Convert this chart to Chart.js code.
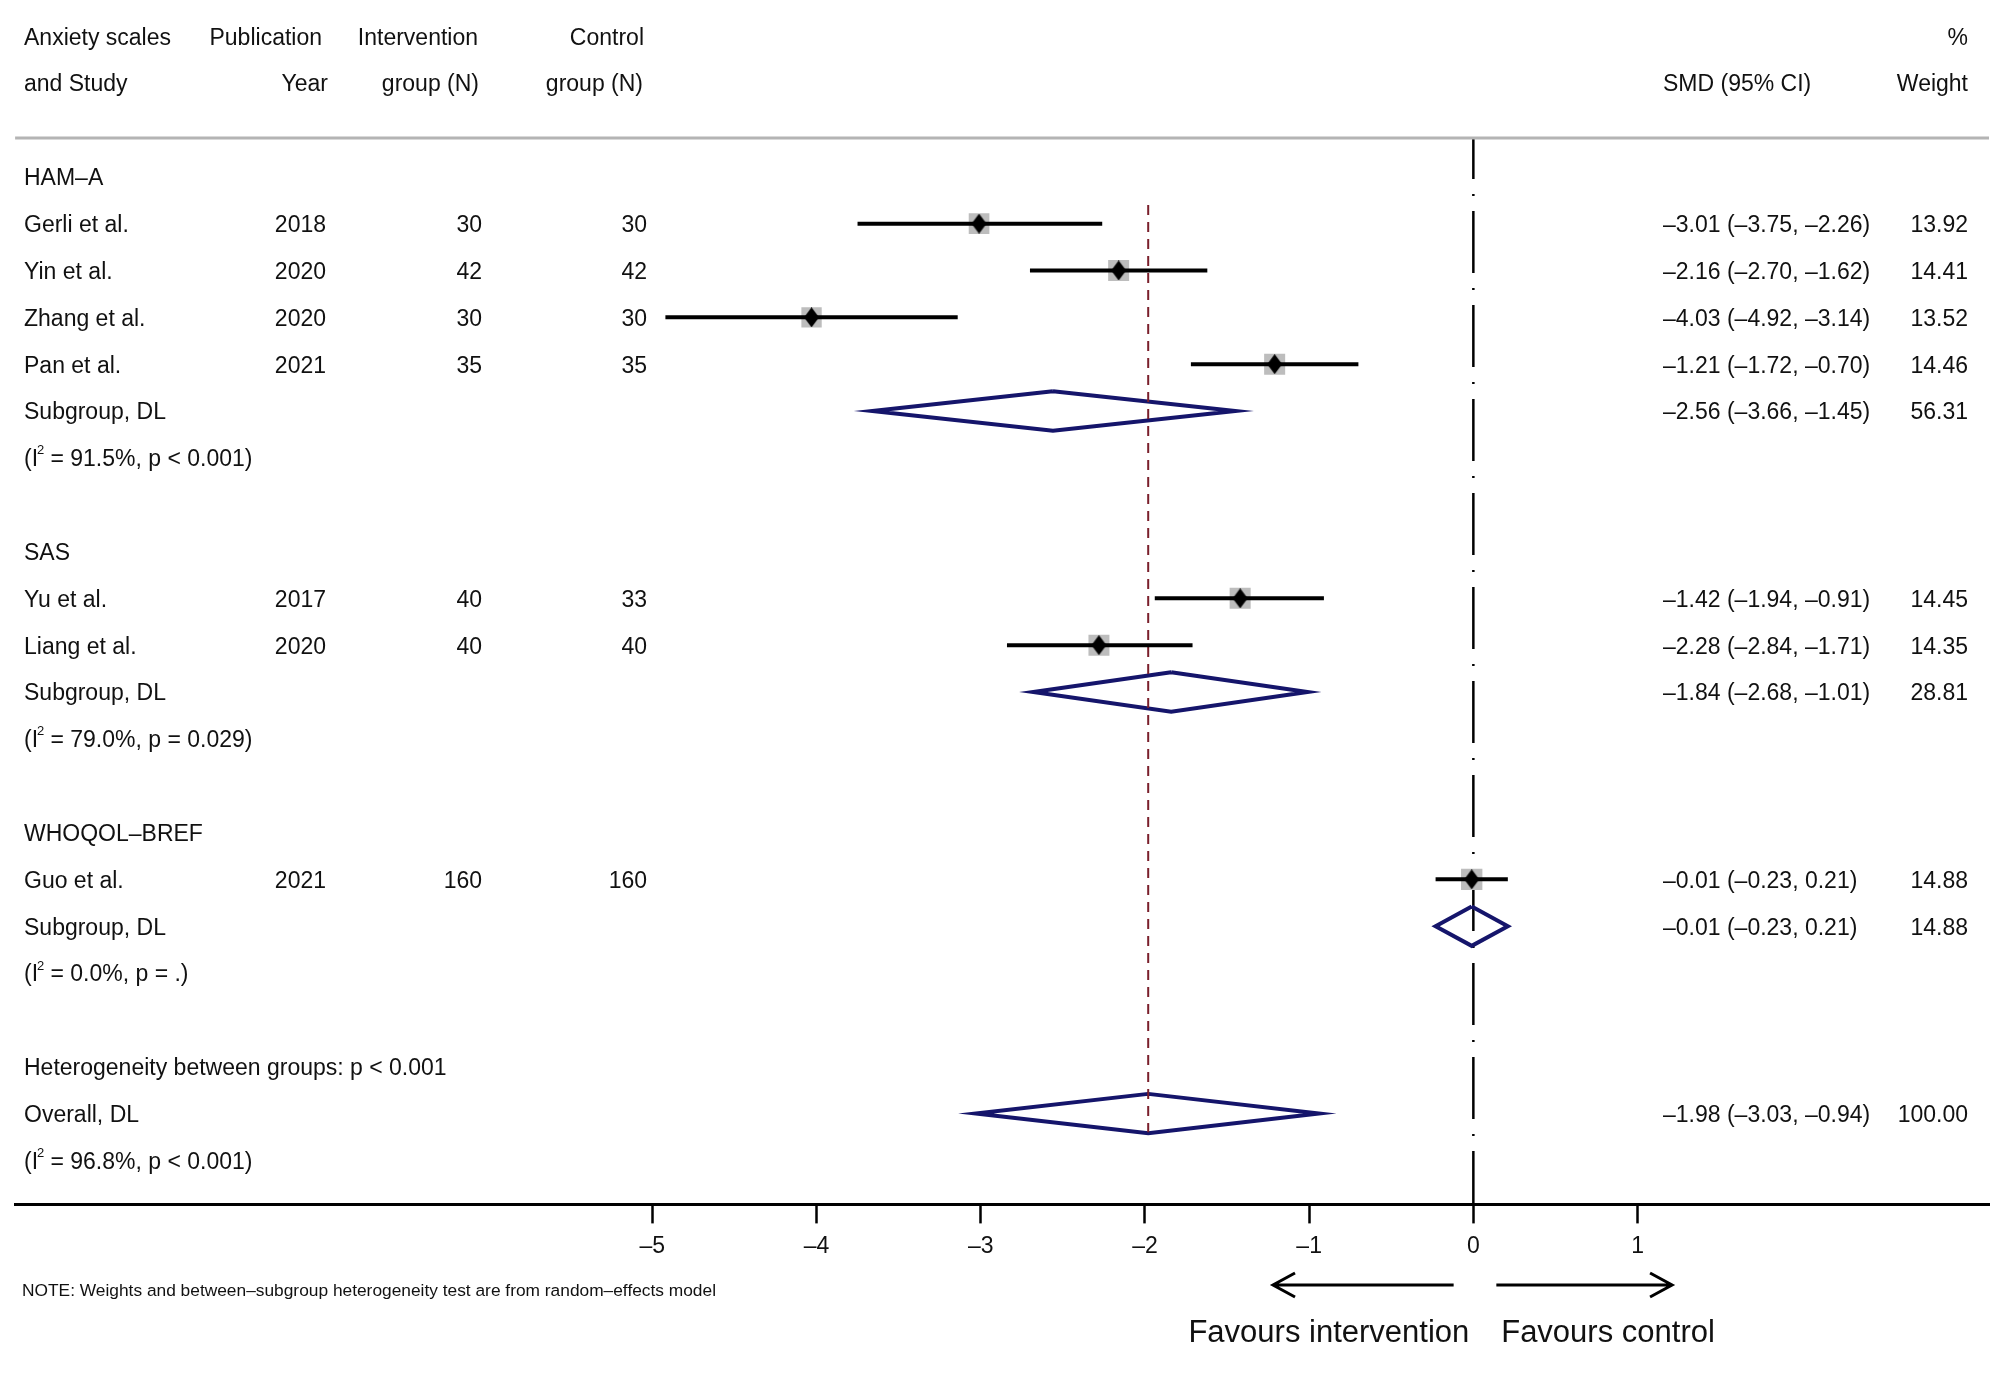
<!DOCTYPE html>
<html>
<head>
<meta charset="utf-8">
<title>Forest plot - anxiety scales</title>
<script src="https://cdn.jsdelivr.net/npm/chart.js@4.4.1/dist/chart.umd.min.js"></script>
<style>
    html, body { margin: 0; padding: 0; background: #fff; }
    #forest { display: block; }
</style>
</head>
<body>
<canvas id="forest" width="2008" height="1373"></canvas>
<script>
// ================================================================
// Forest plot — SMD by anxiety scale (random effects, DL)
// ================================================================

// ── Studies ─────────────────────────────────────────────────────
var studyNames    = ['Gerli et al.', 'Yin et al.', 'Zhang et al.', 'Pan et al.', 'Yu et al.', 'Liang et al.', 'Guo et al.'];
var studyYears    = ['2018', '2020', '2020', '2021', '2017', '2020', '2021'];
var interventionN = [30, 42, 30, 35, 40, 40, 160];
var controlN      = [30, 42, 30, 35, 33, 40, 160];
var studySMD      = [-3.01, -2.16, -4.03, -1.21, -1.42, -2.28, -0.01];
var studyLow      = [-3.75, -2.70, -4.92, -1.72, -1.94, -2.84, -0.23];
var studyHigh     = [-2.26, -1.62, -3.14, -0.70, -0.91, -1.71, 0.21];
var studyWeight   = [13.92, 14.41, 13.52, 14.46, 14.45, 14.35, 14.88];
var studyRows     = [1, 2, 3, 4, 9, 10, 15];

// ── Pooled estimates (3 subgroups + overall) ────────────────────
var poolLabels = ['Subgroup, DL', 'Subgroup, DL', 'Subgroup, DL', 'Overall, DL'];
var poolSMD    = [-2.56, -1.84, -0.01, -1.98];
var poolLow    = [-3.66, -2.68, -0.23, -3.03];
var poolHigh   = [-1.45, -1.01, 0.21, -0.94];
var poolWeight = [56.31, 28.81, 14.88, 100.00];
var poolRows   = [5, 11, 16, 20];

// ── Heterogeneity ───────────────────────────────────────────────
var hetI2   = ['91.5%', '79.0%', '0.0%', '96.8%'];
var hetP    = ['p < 0.001', 'p = 0.029', 'p = .', 'p < 0.001'];
var hetRows = [6, 12, 17, 21];
var betweenText = 'Heterogeneity between groups: p < 0.001';
var betweenRow  = 19;

// ── Groups / axis ───────────────────────────────────────────────
var groupNames = ['HAM\u2013A', 'SAS', 'WHOQOL\u2013BREF'];
var groupRows  = [0, 8, 14];
var xTicks     = [-5, -4, -3, -2, -1, 0, 1];
var xMin = -8.88, xMax = 3.14;
var yMin = -0.829, yMax = 21.94;

var FONT = '"Liberation Sans", Arial, Helvetica, sans-serif';
var DASH = '\u2013';
var TXT_DY = 2;   // el texto de Stata queda un poco más abajo que el centro de la fila
Chart.defaults.font.family = FONT;

function _fmt(n) { return (n < 0 ? DASH : '') + Math.abs(n).toFixed(2); }

// marcador diamante negro (más alto que ancho)
var diamondImg = (function() {
    var c = document.createElement('canvas');
    c.width = 15; c.height = 20;
    var g = c.getContext('2d');
    g.fillStyle = '#000';
    g.beginPath();
    g.moveTo(7.5, 0); g.lineTo(15, 10); g.lineTo(7.5, 20); g.lineTo(0, 10);
    g.closePath(); g.fill();
    return c;
})();

// ── Datasets ────────────────────────────────────────────────────
var datasets = [];

// marcadores de punto estimado
datasets.push({
    data: studySMD.map(function(v, i) { return { x: v, y: studyRows[i] }; }),
    pointStyle: diamondImg, pointRadius: 10, showLine: false, order: 0
});

// IC de cada estudio
studySMD.forEach(function(v, i) {
    datasets.push({
        data: [{ x: studyLow[i], y: studyRows[i] }, { x: studyHigh[i], y: studyRows[i] }],
        showLine: true, borderColor: '#000', borderWidth: 4, borderCapStyle: 'butt',
        pointRadius: 0, order: 1
    });
});

// cajas grises por peso
datasets.push({
    data: studySMD.map(function(v, i) { return { x: v, y: studyRows[i] }; }),
    pointStyle: 'rect', showLine: false, order: 3,
    pointRadius: studyWeight.map(function(w) { return 14.85 * Math.sqrt(w / 14.4); }),
    backgroundColor: '#bdbdbd', borderWidth: 0
});

// rombos de subgrupo y global
var DH = 0.42;
poolSMD.forEach(function(v, i) {
    var r = poolRows[i];
    datasets.push({
        data: [
            { x: v, y: r - DH }, { x: poolHigh[i], y: r }, { x: v, y: r + DH },
            { x: poolLow[i], y: r }, { x: v, y: r - DH }
        ],
        showLine: true, borderColor: '#15156b', borderWidth: 4, borderJoinStyle: 'miter',
        tension: 0, pointRadius: 0, fill: false, order: 2, clip: false
    });
});

// línea nula (raya-punto)
datasets.push({
    data: [{ x: 0, y: yMin }, { x: 0, y: yMax }],
    showLine: true, borderColor: '#000', borderWidth: 2.5, borderCapStyle: 'butt',
    borderDash: [62, 15, 2, 15], borderDashOffset: 21, pointRadius: 0, order: 4
});

// línea del efecto global
datasets.push({
    data: [{ x: poolSMD[3], y: 0.6 }, { x: poolSMD[3], y: 20.4 }],
    showLine: true, borderColor: '#7a1f2b', borderWidth: 2, borderCapStyle: 'butt',
    borderDash: [10, 7], pointRadius: 0, order: 1
});

// ── Texto de la tabla ───────────────────────────────────────────
function _txt(ctx, s, x, y, align, size, maxW) {
    ctx.font = (size || 23) + 'px ' + FONT;
    ctx.textAlign = align || 'left';
    if (maxW) ctx.fillText(s, x, y, maxW); else ctx.fillText(s, x, y);
}

function _het(ctx, x, y, i2, p) {
    ctx.font = '23px ' + FONT;
    ctx.textAlign = 'left';
    ctx.fillText('(I', x, y);
    var w = ctx.measureText('(I').width;
    ctx.font = '13px ' + FONT;
    ctx.fillText('2', x + w - 1, y - 9);
    ctx.font = '23px ' + FONT;
    ctx.fillText(' = ' + i2 + ', ' + p + ')', x + w + 6, y);
}

function _arrow(ctx, x1, x2, y) {
    var dir = x2 > x1 ? 1 : -1;
    ctx.beginPath();
    ctx.moveTo(x1, y); ctx.lineTo(x2, y);
    ctx.moveTo(x2 - dir * 22, y - 12); ctx.lineTo(x2, y); ctx.lineTo(x2 - dir * 22, y + 12);
    ctx.stroke();
}

var tablePlugin = {
    id: 'forestTable',
    afterDraw: function(chart) {
        var ctx = chart.ctx, ys = chart.scales.y, xs = chart.scales.x, ca = chart.chartArea;
        var row = function(r) { return ys.getPixelForValue(r) + TXT_DY; };
        ctx.save();
        ctx.fillStyle = '#111';
        ctx.textBaseline = 'middle';

        // encabezados
        _txt(ctx, 'Anxiety scales', 24, row(-3));
        _txt(ctx, 'Publication', 322, row(-3), 'right');
        _txt(ctx, 'Intervention', 478, row(-3), 'right');
        _txt(ctx, 'Control', 644, row(-3), 'right');
        _txt(ctx, '%', 1968, row(-3), 'right');
        _txt(ctx, 'and Study', 24, row(-2));
        _txt(ctx, 'Year', 328, row(-2), 'right');
        _txt(ctx, 'group (N)', 479, row(-2), 'right');
        _txt(ctx, 'group (N)', 643, row(-2), 'right');
        _txt(ctx, 'SMD (95% CI)', 1663, row(-2));
        _txt(ctx, 'Weight', 1968, row(-2), 'right');

        // grupos
        groupNames.forEach(function(g, i) { _txt(ctx, g, 24, row(groupRows[i])); });

        // estudios
        studyNames.forEach(function(n, i) {
            var y = row(studyRows[i]);
            _txt(ctx, n, 24, y);
            _txt(ctx, studyYears[i], 326, y, 'right');
            _txt(ctx, String(interventionN[i]), 482, y, 'right');
            _txt(ctx, String(controlN[i]), 647, y, 'right');
            _txt(ctx, _fmt(studySMD[i]) + ' (' + _fmt(studyLow[i]) + ', ' + _fmt(studyHigh[i]) + ')', 1663, y);
            _txt(ctx, studyWeight[i].toFixed(2), 1968, y, 'right');
        });

        // agrupados
        poolLabels.forEach(function(n, i) {
            var y = row(poolRows[i]);
            _txt(ctx, n, 24, y);
            _txt(ctx, _fmt(poolSMD[i]) + ' (' + _fmt(poolLow[i]) + ', ' + _fmt(poolHigh[i]) + ')', 1663, y);
            _txt(ctx, poolWeight[i].toFixed(2), 1968, y, 'right');
        });
        hetRows.forEach(function(r, i) { _het(ctx, 24, row(r), hetI2[i], hetP[i]); });
        _txt(ctx, betweenText, 24, row(betweenRow));

        // línea gris bajo el encabezado
        ctx.strokeStyle = '#b4b4b4';
        ctx.lineWidth = 3;
        ctx.beginPath(); ctx.moveTo(ca.left, ca.top); ctx.lineTo(ca.right, ca.top); ctx.stroke();

        // nota y flechas
        _txt(ctx, 'NOTE: Weights and between' + DASH + 'subgroup heterogeneity test are from random' + DASH + 'effects model', 22, 1291, 'left', 17.4, 694);
        ctx.strokeStyle = '#000';
        ctx.lineWidth = 3;
        _arrow(ctx, xs.getPixelForValue(-0.12), xs.getPixelForValue(-1.22), 1285);
        _arrow(ctx, xs.getPixelForValue(0.14), xs.getPixelForValue(1.21), 1285);
        _txt(ctx, 'Favours intervention', xs.getPixelForValue(-0.88), 1333, 'center', 31);
        _txt(ctx, 'Favours control', xs.getPixelForValue(0.82), 1333, 'center', 31);
        ctx.restore();
    }
};

// ── Gráfico ─────────────────────────────────────────────────────
window._forestChart = new Chart(document.getElementById('forest'), {
    type: 'scatter',
    data: { datasets: datasets },
    plugins: [tablePlugin],
    options: {
        responsive: false,
        devicePixelRatio: 1,
        animation: false,
        layout: { padding: { left: 13, right: 19, top: 138, bottom: 104 } },
        plugins: { legend: { display: false }, tooltip: { enabled: false } },
        elements: { line: { tension: 0 } },
        scales: {
            x: {
                type: 'linear', position: 'bottom', min: xMin, max: xMax,
                afterBuildTicks: function(s) { s.ticks = xTicks.map(function(v) { return { value: v }; }); },
                ticks: {
                    color: '#111', padding: 9, font: { size: 23 },
                    callback: function(v) { return v < 0 ? DASH + Math.abs(v) : String(v); }
                },
                grid: { display: true, drawOnChartArea: false, drawTicks: true, tickLength: 19, tickWidth: 2.5, tickColor: '#000' },
                border: { display: true, color: '#000', width: 3 }
            },
            y: { type: 'linear', reverse: true, min: yMin, max: yMax, display: false }
        }
    }
});
</script>
</body>
</html>
